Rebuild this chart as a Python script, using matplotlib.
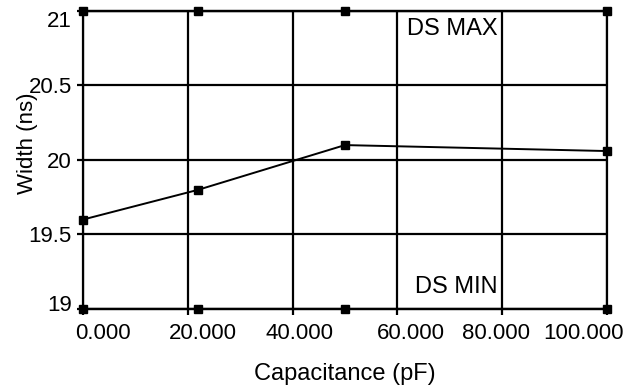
import matplotlib
matplotlib.use("Agg")
import matplotlib.pyplot as plt
from matplotlib.ticker import FormatStrFormatter
from matplotlib.transforms import ScaledTranslation

# data
cap_pf = [0, 22, 50, 100]
width_ns = [19.6, 19.8, 20.1, 20.06]
ds_max = [21, 21, 21, 21]
ds_min = [19, 19, 19, 19]

x_ticks = [0, 20, 40, 60, 80, 100]
y_ticks = [19, 19.5, 20, 20.5, 21]
y_labels = ['19', '19.5', '20', '20.5', '21']

plt.rcParams['font.family'] = ['Liberation Sans', 'DejaVu Sans']
plt.rcParams['font.size'] = 16

fig = plt.figure(figsize=(6.28, 3.87), dpi=100)
ax = fig.add_axes([0.132, 0.2016, 0.8346, 0.77])

lw = 1.6
ax.plot(cap_pf, ds_max, color='black', lw=lw, marker='s', ms=6, clip_on=False, zorder=3)
ax.plot(cap_pf, ds_min, color='black', lw=lw, marker='s', ms=6, clip_on=False, zorder=3)
ax.plot(cap_pf, width_ns, color='black', lw=1.4, marker='s', ms=6, clip_on=False, zorder=3)

ax.set_xlim(0, 100)
ax.set_ylim(19, 21)
ax.set_xticks(x_ticks)
ax.set_yticks(y_ticks)
ax.xaxis.set_major_formatter(FormatStrFormatter('%.3f'))
ax.set_yticklabels(y_labels)
ax.grid(True, color='black', lw=lw)
for s in ax.spines.values():
    s.set_linewidth(lw)
ax.tick_params(direction='out', length=4, width=lw)
ax.tick_params(axis='x', pad=6)
ax.tick_params(axis='y', pad=4)

# the original squeezes the tick labels inwards so they fit
x_shift = [20, 15, 7, 14, -6, -24]
for lab, dx in zip(ax.get_xticklabels(), x_shift):
    lab.set_transform(lab.get_transform() + ScaledTranslation(dx / 100, 0, fig.dpi_scale_trans))
y_shift = [6, 0, 0, 0, -8]
for lab, dy in zip(ax.get_yticklabels(), y_shift):
    lab.set_transform(lab.get_transform() + ScaledTranslation(0, dy / 100, fig.dpi_scale_trans))

ax.text(70.5, 20.88, 'DS MAX', ha='center', va='center', fontsize=17)
ax.text(71.3, 19.15, 'DS MIN', ha='center', va='center', fontsize=17)

ax.set_xlabel('Capacitance (pF)', fontsize=17, labelpad=14)
ax.set_ylabel('Width (ns)', fontsize=16)
ax.yaxis.set_label_coords(-0.085, 0.557)

fig.savefig('out.png', dpi=100)
